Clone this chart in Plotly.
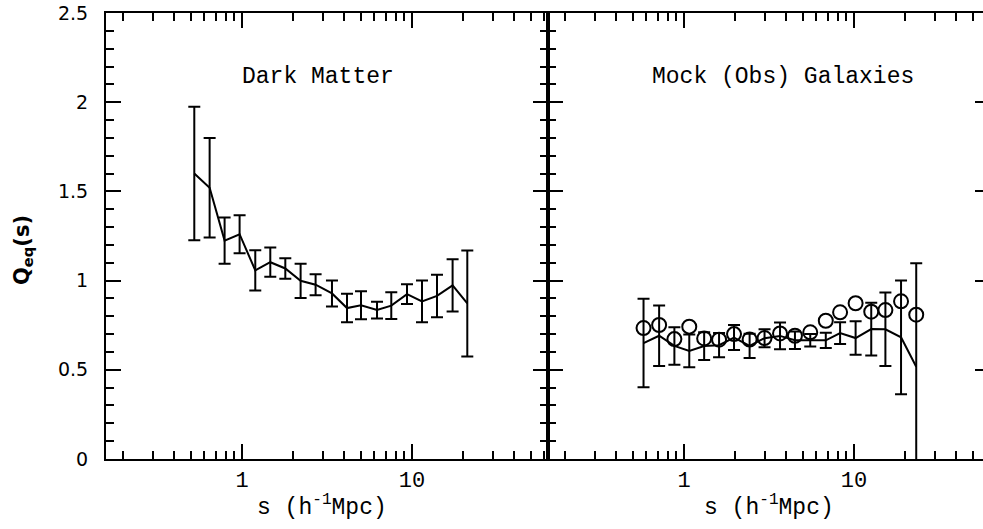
import plotly.graph_objects as go

# ---------------- data ----------------
# Dark Matter panel
dm_s = [0.524, 0.645, 0.790, 0.968, 1.197, 1.467, 1.798, 2.212, 2.710, 3.383,
        4.147, 5.012, 6.226, 7.553, 9.345, 11.45, 14.03, 17.33, 21.15]
dm_q = [1.600, 1.520, 1.224, 1.260, 1.057, 1.103, 1.068, 0.999, 0.977, 0.928,
        0.846, 0.862, 0.835, 0.860, 0.924, 0.883, 0.914, 0.973, 0.872]
dm_err = [0.374, 0.279, 0.129, 0.107, 0.113, 0.082, 0.057, 0.096, 0.059, 0.073,
          0.080, 0.078, 0.047, 0.075, 0.055, 0.117, 0.119, 0.146, 0.297]

# Mock (Obs) Galaxies panel
mk_s = [0.578, 0.714, 0.878, 1.074, 1.314, 1.608, 1.969, 2.432, 2.977, 3.672,
        4.494, 5.529, 6.824, 8.283, 10.22, 12.63, 15.30, 18.91, 23.23]
mk_q = [0.650, 0.691, 0.634, 0.606, 0.633, 0.638, 0.681, 0.634, 0.677, 0.690,
        0.666, 0.666, 0.665, 0.706, 0.678, 0.728, 0.727, 0.682, 0.517]
mk_err = [0.248, 0.169, 0.105, 0.092, 0.078, 0.068, 0.070, 0.068, 0.050, 0.075,
          0.049, 0.035, 0.043, 0.061, 0.094, 0.148, 0.206, 0.319, 0.580]
obs_q = [0.734, 0.751, 0.672, 0.742, 0.676, 0.669, 0.700, 0.670, 0.678, 0.704,
         0.691, 0.710, 0.775, 0.822, 0.873, 0.826, 0.835, 0.884, 0.809]

x_major = [1, 10]
x_major_text = ["1", "10"]
x_minor = [0.2, 0.3, 0.4, 0.5, 0.6, 0.7, 0.8, 0.9,
           2, 3, 4, 5, 6, 7, 8, 9, 20, 30, 40, 50, 60]
y_major = [0, 0.5, 1, 1.5, 2, 2.5]
y_major_text = ["0", "0.5", "1", "1.5", "2", "2.5"]
y_right_ticks = [0.5, 1, 1.5, 2]

titles = ["Dark Matter", "Mock (Obs) Galaxies"]
x_title = "s (h<sup>-1</sup>Mpc)"
y_title = "<b>Q<sub>eq</sub>(s)</b>"

# ---------------- figure ----------------
W, H = 983, 529
ML, MR, MT, MB = 106, 0, 13, 70
PW = W - ML - MR
PH = H - MT - MB
split = 442 / PW

mono = "Liberation Mono, Courier New, monospace"
sans = "DejaVu Sans, Liberation Sans, sans-serif"

err_style = dict(type="data", thickness=2, width=6, color="black")

fig = go.Figure()
fig.add_trace(go.Scatter(x=dm_s, y=dm_q, mode="lines",
                         line=dict(color="black", width=2),
                         error_y=dict(array=dm_err, **err_style),
                         xaxis="x", yaxis="y", hoverinfo="skip"))
fig.add_trace(go.Scatter(x=mk_s, y=mk_q, mode="lines",
                         line=dict(color="black", width=2),
                         error_y=dict(array=mk_err, **err_style),
                         xaxis="x2", yaxis="y2", hoverinfo="skip"))
fig.add_trace(go.Scatter(x=mk_s, y=obs_q, mode="markers",
                         marker=dict(symbol="circle-open", size=14,
                                     color="black", line=dict(width=2, color="black")),
                         xaxis="x2", yaxis="y2", hoverinfo="skip"))
fig.add_trace(go.Scatter(x=[], y=[], xaxis="x2", yaxis="y3", showlegend=False))

xcommon = dict(type="log", showline=True, linecolor="black", linewidth=2,
               mirror="ticks", ticks="inside", ticklen=15, tickwidth=2,
               tickcolor="black", tickmode="array", tickvals=x_major,
               ticktext=x_major_text, tickfont=dict(family=mono, size=22, color="black"),
               ticklabelstandoff=0,
               minor=dict(ticks="inside", ticklen=8, tickwidth=2, tickcolor="black",
                          tickmode="array", tickvals=x_minor, showgrid=False),
               showgrid=False, zeroline=False)
ycommon = dict(range=[0, 2.5], showline=True, linecolor="black", linewidth=2,
               ticks="inside", ticklen=15, tickwidth=2, tickcolor="black",
               tickmode="array", tickvals=y_major, ticktext=y_major_text,
               minor=dict(ticks="inside", ticklen=8, tickwidth=2, tickcolor="black",
                          dtick=0.1, showgrid=False),
               showgrid=False, zeroline=False)

fig.update_layout(
    width=W, height=H, autosize=False,
    margin=dict(l=ML, r=MR, t=MT, b=MB, pad=0),
    paper_bgcolor="white", plot_bgcolor="white",
    showlegend=False,
    xaxis=dict(domain=[0, split], range=[-0.8, 1.8], anchor="y", **xcommon),
    xaxis2=dict(domain=[split, 1], range=[-0.8, -0.8 + (PW - 442) / 170.0],
                anchor="y2", **xcommon),
    yaxis=dict(domain=[0, 1], anchor="x", mirror="ticks",
               tickfont=dict(family=sans, size=19, color="black"),
               ticklabelstandoff=12, **ycommon),
    yaxis2=dict(domain=[0, 1], anchor="x2", mirror=False,
                showticklabels=False, **ycommon),
    yaxis3=dict(range=[0, 2.5], overlaying="y2", side="right", anchor="x2",
                showline=False, ticks="inside", ticklen=8, tickwidth=2,
                tickcolor="black", tickmode="array", tickvals=y_right_ticks,
                showticklabels=False, showgrid=False, zeroline=False),
)

def px_x(p):
    return (p - ML) / PW

def px_y(p):
    return (H - MB - p) / PH

def label(text, cx, cy, font, angle=0):
    return dict(text=text, x=px_x(cx), y=px_y(cy), xref="paper", yref="paper",
                xanchor="center", yanchor="middle", textangle=angle,
                showarrow=False, font=font)

mono_font = dict(family=mono, size=23, color="black")
ann = [
    label(titles[0], 318, 77, mono_font),
    label(titles[1], 783, 77, mono_font),
    label(x_title, 322, 506, mono_font),
    label(x_title, 769, 506, mono_font),
    label(y_title, 23, 250, dict(family=sans, size=21, color="black"), angle=-90),
]
fig.update_layout(annotations=ann)

fig.write_html("out.html", config={"responsive": False, "displayModeBar": False},
               post_script="document.body.style.margin='0px';"
                           "document.body.style.overflow='hidden';")
